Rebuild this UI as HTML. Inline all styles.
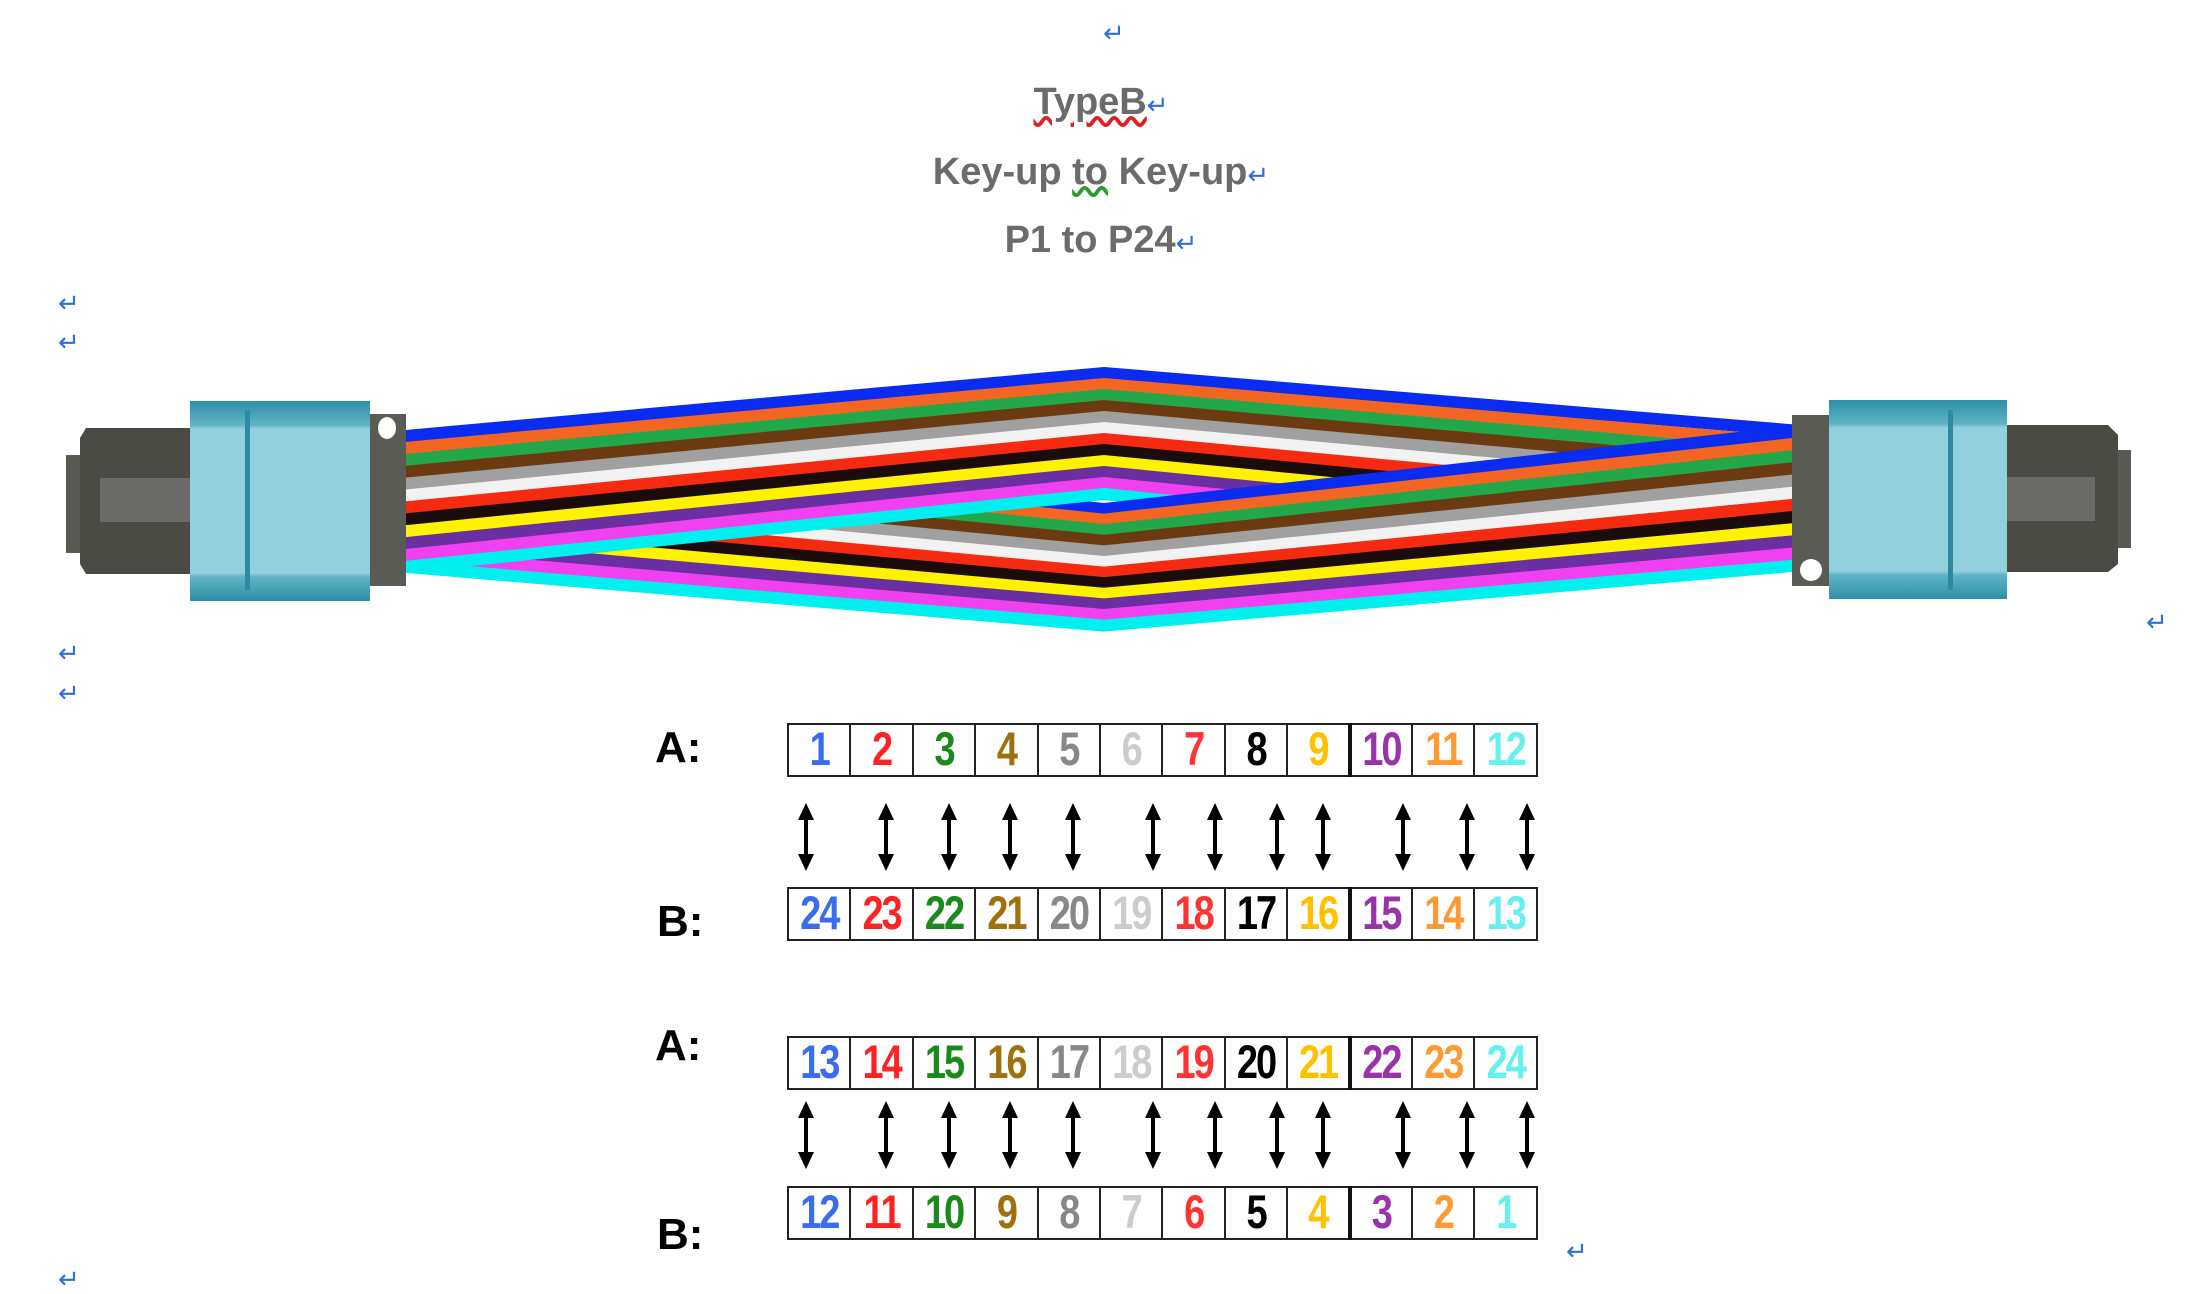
<!DOCTYPE html>
<html><head><meta charset="utf-8">
<style>
html,body{margin:0;padding:0;background:#fff;}
body{width:2202px;height:1280px;position:relative;overflow:hidden;font-family:"Liberation Sans",Arial,sans-serif;}
.t{position:absolute;left:0;width:2202px;text-align:center;font-weight:bold;color:#6b6b6b;font-size:38px;line-height:44px;}
.ret{color:#2f6fd6;font-weight:normal;font-size:26px;}
.r{position:absolute;color:#2f6fd6;font-size:26px;line-height:26px;}
.lab{position:absolute;font-weight:bold;font-size:44px;color:#000;line-height:44px;}
table{position:absolute;left:787px;width:751px;border-collapse:collapse;table-layout:fixed;}
td{border:2px solid #222;height:50px;padding:0;text-align:center;font-weight:bold;font-size:38px;line-height:50px;letter-spacing:-2px;overflow:hidden;}
td span{display:inline-block;transform:scaleY(1.25);}
td.k{border-right:4px solid #111;}
</style></head><body>
<div class="r" style="left:1103px;top:20px;">↵</div>
<div class="t" style="top:80px;"><span style="text-decoration:underline wavy #e02020;">TypeB</span><span class="ret">↵</span></div>
<div class="t" style="top:150px;">Key-up <span style="text-decoration:underline wavy #2a9a2a;">to</span> Key-up<span class="ret">↵</span></div>
<div class="t" style="top:218px;">P1 to P24<span class="ret">↵</span></div>
<div class="r" style="left:58px;top:290px;">↵</div>
<div class="r" style="left:58px;top:329px;">↵</div>
<div class="r" style="left:58px;top:640px;">↵</div>
<div class="r" style="left:58px;top:680px;">↵</div>
<div class="r" style="left:2146px;top:609px;">↵</div>
<div class="r" style="left:1566px;top:1238px;">↵</div>
<div class="r" style="left:58px;top:1266px;">↵</div>

<svg style="position:absolute;left:0;top:0" width="2202" height="700">
<defs>
<clipPath id="L"><rect x="0" y="0" width="1104" height="700"/></clipPath>
<clipPath id="R"><rect x="1104" y="0" width="1100" height="700"/></clipPath>
<linearGradient id="fer" x1="0" y1="0" x2="0" y2="1">
<stop offset="0" stop-color="#2f8fa6"/><stop offset="0.12" stop-color="#5fb3c6"/><stop offset="0.14" stop-color="#93d0de"/><stop offset="0.86" stop-color="#93d0de"/><stop offset="0.88" stop-color="#5fb3c6"/><stop offset="1" stop-color="#2f8fa6"/>
</linearGradient>
</defs>
<g id="fib" fill="none" stroke-width="12" stroke-linejoin="miter"></g>
<rect x="66" y="455" width="14" height="98" fill="#5a5a55"/>
<path d="M80 438 L86 428 L190 428 L190 574 L86 574 L80 564 Z" fill="#4b4b45"/>
<rect x="100" y="478" width="90" height="44" fill="#6a6a68"/>
<rect x="190" y="401" width="180" height="200" fill="url(#fer)"/>
<rect x="245" y="410" width="5" height="180" fill="#2e8aa0"/>
<rect x="370" y="414" width="36" height="172" fill="#5b5b55"/>
<ellipse cx="387" cy="428" rx="9" ry="11" fill="#fff"/>
<rect x="2118" y="450" width="13" height="98" fill="#5a5a55"/>
<path d="M2007 425 L2108 425 L2118 435 L2118 564 L2108 572 L2007 572 Z" fill="#4b4b45"/>
<rect x="2007" y="477" width="88" height="44" fill="#6a6a68"/>
<rect x="1829" y="400" width="178" height="199" fill="url(#fer)"/>
<rect x="1948" y="410" width="5" height="180" fill="#2e8aa0"/>
<rect x="1792" y="415" width="37" height="171" fill="#5b5b55"/>
<circle cx="1811" cy="570" r="11" fill="#fff"/>
</svg>
<script>
(function(){
var c=["#0a2cf0","#f26522","#22a84a","#6b3a10","#a0a0a0","#f2f2f2","#f52a10","#1a0c0a","#fff200","#6a2fa0","#f040f0","#00f0f0"];
var g=document.getElementById("fib"),ns="http://www.w3.org/2000/svg";
function pl(pts,col,clip){var p=document.createElementNS(ns,"polyline");p.setAttribute("points",pts);p.setAttribute("stroke",col);p.setAttribute("clip-path","url(#"+clip+")");g.appendChild(p);}
function up(i){var y=436+i*11.9;return "406,"+y+" 1104,"+(373+i*11)+" 1801,"+(431+i*12.2);}
function lo(i){var y=436+i*11.9;return "406,"+y+" 1104,"+(509+i*10.6)+" 1801,"+(431+i*12.2);}
var i;
for(i=0;i<12;i++)pl(lo(i),c[i],"L");
for(i=0;i<12;i++)pl(up(i),c[i],"L");
for(i=0;i<12;i++)pl(up(i),c[i],"R");
for(i=0;i<12;i++)pl(lo(i),c[i],"R");
})();
</script>

<div class="lab" style="left:655px;top:726px;">A:</div>
<div class="lab" style="left:657px;top:900px;">B:</div>
<div class="lab" style="left:655px;top:1024px;">A:</div>
<div class="lab" style="left:657px;top:1213px;">B:</div>

<table style="top:723px;"><tr>
<td style="color:#3a6cf0"><span>1</span></td><td style="color:#f22"><span>2</span></td><td style="color:#1a8a1a"><span>3</span></td><td style="color:#a0700f"><span>4</span></td><td style="color:#888"><span>5</span></td><td style="color:#ccc"><span>6</span></td><td style="color:#f33"><span>7</span></td><td style="color:#000"><span>8</span></td><td class="k" style="color:#ffc000"><span>9</span></td><td style="color:#9933aa"><span>10</span></td><td style="color:#ff9933"><span>11</span></td><td style="color:#66f0f0"><span>12</span></td></tr></table>
<table style="top:887px;"><tr>
<td style="color:#3a6cf0"><span>24</span></td><td style="color:#f22"><span>23</span></td><td style="color:#1a8a1a"><span>22</span></td><td style="color:#a0700f"><span>21</span></td><td style="color:#888"><span>20</span></td><td style="color:#ccc"><span>19</span></td><td style="color:#f33"><span>18</span></td><td style="color:#000"><span>17</span></td><td class="k" style="color:#ffc000"><span>16</span></td><td style="color:#9933aa"><span>15</span></td><td style="color:#ff9933"><span>14</span></td><td style="color:#66f0f0"><span>13</span></td></tr></table>
<table style="top:1036px;"><tr>
<td style="color:#3a6cf0"><span>13</span></td><td style="color:#f22"><span>14</span></td><td style="color:#1a8a1a"><span>15</span></td><td style="color:#a0700f"><span>16</span></td><td style="color:#888"><span>17</span></td><td style="color:#ccc"><span>18</span></td><td style="color:#f33"><span>19</span></td><td style="color:#000"><span>20</span></td><td class="k" style="color:#ffc000"><span>21</span></td><td style="color:#9933aa"><span>22</span></td><td style="color:#ff9933"><span>23</span></td><td style="color:#66f0f0"><span>24</span></td></tr></table>
<table style="top:1186px;"><tr>
<td style="color:#3a6cf0"><span>12</span></td><td style="color:#f22"><span>11</span></td><td style="color:#1a8a1a"><span>10</span></td><td style="color:#a0700f"><span>9</span></td><td style="color:#888"><span>8</span></td><td style="color:#ccc"><span>7</span></td><td style="color:#f33"><span>6</span></td><td style="color:#000"><span>5</span></td><td class="k" style="color:#ffc000"><span>4</span></td><td style="color:#9933aa"><span>3</span></td><td style="color:#ff9933"><span>2</span></td><td style="color:#66f0f0"><span>1</span></td></tr></table>

<svg style="position:absolute;left:0;top:0" width="2202" height="1280">
<defs><g id="arr"><line x1="0" y1="12" x2="0" y2="56" stroke="#000" stroke-width="4"/><path d="M-8 17 L0 0 L8 17 Z M-8 51 L0 68 L8 51 Z" fill="#000"/></g></defs>
<g id="ar1"></g>
</svg>
<script>
(function(){
var xs=[806,886,949,1010,1073,1153,1215,1277,1323,1403,1467,1527],ys=[803,1101];
var g=document.getElementById("ar1"),ns="http://www.w3.org/2000/svg";
ys.forEach(function(y){xs.forEach(function(x){var u=document.createElementNS(ns,"use");u.setAttribute("href","#arr");u.setAttribute("transform","translate("+x+","+y+")");g.appendChild(u);});});
})();
</script>
</body></html>
